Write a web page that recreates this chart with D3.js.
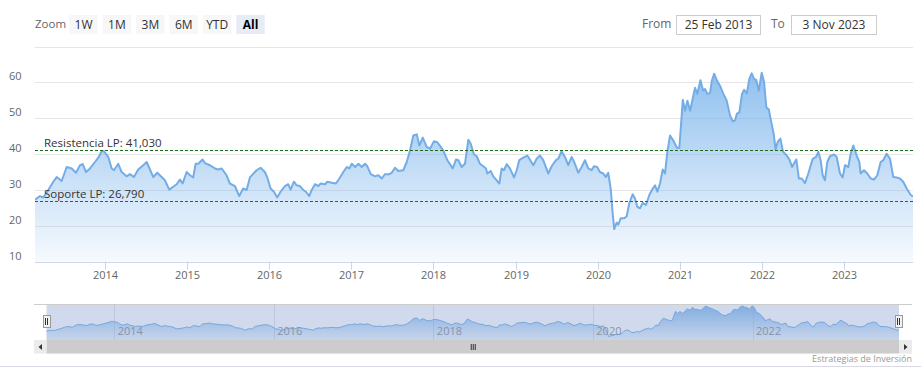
<!DOCTYPE html>
<html><head><meta charset="utf-8">
<script src="https://cdn.jsdelivr.net/npm/d3@7"></script>
<style>
html,body{margin:0;padding:0;background:#fff;}
svg{display:block;font-family:"Open Sans","Noto Sans",sans-serif;}
</style></head>
<body>
<svg id="chart" width="921" height="381"></svg>
<script>
// ---------- DATA ----------
const dates = [2013.151,2013.212,2013.252,2013.313,2013.374,2013.415,2013.476,2013.537,2013.598,2013.650,2013.699,2013.732,2013.772,2013.821,2013.881,2013.922,2013.963,2013.991,
2014.043,2014.085,2014.113,2014.165,2014.206,2014.267,2014.307,2014.356,2014.408,2014.469,2014.511,2014.551,2014.591,2014.640,2014.693,2014.733,2014.786,2014.834,2014.876,2014.916,2014.949,2014.997,
2015.038,2015.078,2015.107,2015.139,2015.192,2015.220,2015.281,2015.342,2015.382,2015.423,2015.484,2015.524,2015.585,2015.638,2015.686,2015.728,2015.768,2015.849,2015.898,2015.950,2015.978,
2016.020,2016.060,2016.100,2016.141,2016.194,2016.234,2016.263,2016.303,2016.336,2016.376,2016.416,2016.449,2016.489,2016.519,2016.559,2016.599,2016.628,2016.681,2016.709,2016.762,2016.814,2016.855,2016.903,2016.945,2016.976,
2017.006,2017.046,2017.086,2017.127,2017.167,2017.195,2017.237,2017.289,2017.329,2017.371,2017.411,2017.463,2017.492,2017.532,2017.573,2017.633,2017.675,2017.715,2017.755,2017.797,2017.828,2017.870,2017.918,2017.958,
2018.007,2018.047,2018.089,2018.120,2018.169,2018.202,2018.235,2018.275,2018.303,2018.344,2018.384,2018.425,2018.454,2018.494,2018.527,2018.567,2018.607,2018.640,2018.656,2018.697,2018.729,2018.770,2018.802,2018.831,2018.859,2018.892,2018.932,2018.981,
2019.014,2019.045,2019.094,2019.143,2019.175,2019.216,2019.257,2019.297,2019.337,2019.398,2019.440,2019.492,2019.520,2019.561,2019.601,2019.642,2019.683,2019.723,2019.763,2019.805,2019.845,2019.885,2019.926,2019.954,2019.994,
2020.027,2020.067,2020.100,2020.128,2020.158,2020.182,2020.201,2020.231,2020.250,2020.279,2020.319,2020.352,2020.384,2020.425,2020.453,2020.481,2020.514,2020.547,2020.587,2020.627,2020.669,2020.697,2020.725,2020.757,2020.790,2020.818,2020.846,2020.879,2020.919,2020.961,2020.992,
2021.034,2021.062,2021.090,2021.123,2021.183,2021.211,2021.248,2021.281,2021.305,2021.333,2021.366,2021.387,2021.415,2021.448,2021.488,2021.528,2021.567,2021.609,2021.642,2021.670,2021.691,2021.723,2021.755,2021.780,2021.813,2021.844,2021.873,2021.901,2021.929,2021.959,2021.995,
2022.023,2022.051,2022.082,2022.111,2022.141,2022.163,2022.191,2022.222,2022.254,2022.299,2022.334,2022.364,2022.416,2022.447,2022.482,2022.522,2022.562,2022.616,2022.656,2022.684,2022.713,2022.737,2022.765,2022.793,2022.826,2022.875,2022.908,2022.948,2022.981,
2023.009,2023.049,2023.078,2023.110,2023.151,2023.183,2023.200,2023.240,2023.280,2023.322,2023.362,2023.402,2023.443,2023.475,2023.516,2023.557,2023.597,2023.638,2023.678,2023.718,2023.760,2023.809,2023.837];

const prices = [27.3,28.3,27.9,30.0,32.3,33.6,32.5,36.4,36.0,34.8,36.9,37.2,35.0,36.0,37.8,39.0,40.8,40.8,
39.2,36.0,35.5,37.3,35.0,33.8,34.4,33.6,35.7,36.9,37.8,35.7,33.6,34.8,33.6,32.7,30.1,30.9,31.6,32.9,31.8,35.0,
34.1,33.5,37.3,37.3,38.5,37.5,36.9,36.0,35.7,36.0,34.1,31.8,31.1,28.3,30.4,30.0,33.5,35.5,36.2,35.0,33.6,
30.4,29.5,27.9,29.5,31.1,31.6,30.1,32.3,31.3,31.1,30.0,29.5,28.3,30.0,31.6,31.1,31.8,31.6,32.3,32.0,31.8,33.2,35.0,36.4,36.0,
37.3,36.4,37.3,36.4,37.3,36.6,34.4,33.8,34.1,33.2,34.4,34.4,34.8,36.2,35.3,35.5,37.8,41.0,45.2,45.5,42.4,44.6,42.0,41.5,
43.6,43.3,42.0,41.0,38.3,37.2,36.0,38.5,38.3,36.4,37.3,44.0,42.9,39.9,39.4,37.3,36.6,36.0,34.6,35.3,33.8,32.7,31.8,36.0,35.5,37.2,36.0,33.5,
35.5,38.3,39.0,39.6,38.5,36.9,38.7,39.6,38.3,34.6,36.6,38.3,38.7,40.8,39.2,36.9,39.2,37.3,34.8,36.4,38.3,36.0,35.5,36.6,36.4,
35.0,34.6,33.6,34.8,30.4,23.5,19.1,20.9,20.3,22.1,22.1,22.6,26.3,28.8,27.6,25.3,24.9,26.4,25.8,28.6,30.4,31.3,29.5,31.8,35.7,34.6,40.6,45.2,43.8,41.8,41.8,
55.1,52.1,54.9,52.1,58.5,56.8,60.6,57.7,58.1,56.8,57.0,60.4,62.4,60.6,59.0,56.8,55.0,50.8,49.1,49.4,51.2,51.7,56.8,57.9,56.9,61.0,62.5,61.0,60.6,57.7,62.7,
60.2,53.0,52.4,48.9,45.6,41.3,43.5,44.3,40.7,39.6,38.4,36.4,38.5,33.2,33.2,31.9,34.6,38.7,39.2,40.6,38.3,34.1,32.7,37.8,39.4,39.9,39.2,34.6,33.5,
36.9,36.4,40.1,42.4,39.6,37.8,34.6,35.5,34.6,33.2,32.9,34.1,37.8,38.3,40.1,38.7,33.6,33.5,33.2,32.3,30.4,28.6,28.2];

const yTicks = [10, 20, 30, 40, 50, 60, 70];
const yTickLabels = ["10", "20", "30", "40", "50", "60"];
const xTickYears = [2014, 2015, 2016, 2017, 2018, 2019, 2020, 2021, 2022, 2023];
const navTickYears = [2014, 2016, 2018, 2020, 2022];
const resistance = 41.03, resistanceLabel = "Resistencia LP: 41,030";
const support = 26.79, supportLabel = "Soporte LP: 26,790";
const rangeButtons = ["1W", "1M", "3M", "6M", "YTD", "All"];
const selectedButton = "All";
const fromText = "25 Feb 2013", toText = "3 Nov 2023";
const creditText = "Estrategias de Inversión";

// ---------- HELPERS ----------
function decToDate(t) {
  const y = Math.floor(t);
  const s = Date.UTC(y, 0, 1), e = Date.UTC(y + 1, 0, 1);
  return new Date(s + (t - y) * (e - s));
}
const series = dates.map((d, i) => ({ date: decToDate(d), v: prices[i] }));

const svg = d3.select("#chart");
const defs = svg.append("defs");

// layout
const plot = { left: 35, right: 913, top: 46.5, bottom: 261.7 };
const nav = { left: 46.5, right: 899, top: 304, bottom: 340 };

const x = d3.scaleUtc().domain(d3.extent(series, d => d.date)).range([plot.left, plot.right]);
const y = d3.scaleLinear().domain([10, 70]).range([plot.bottom, plot.top]);

// ---------- TOOLBAR ----------
const tb = svg.append("g").attr("font-size", 12);
tb.append("text").attr("x", 35).attr("y", 28).attr("fill", "#666").attr("font-size", 11.5).text("Zoom");
const btnW = 28.5, btnStep = 33.4, btnX0 = 69.3;
rangeButtons.forEach((b, i) => {
  const bx = btnX0 + i * btnStep;
  const sel = b === selectedButton;
  tb.append("rect").attr("x", bx).attr("y", 15).attr("width", btnW).attr("height", 19)
    .attr("fill", sel ? "#e6ebf5" : "#f7f7f7");
  tb.append("text").attr("x", bx + btnW / 2).attr("y", 28.5).attr("text-anchor", "middle")
    .attr("fill", sel ? "#000" : "#333").attr("font-weight", sel ? "bold" : "normal").text(b);
});
tb.append("text").attr("x", 642).attr("y", 28).attr("fill", "#666").text("From");
tb.append("rect").attr("x", 676.5).attr("y", 15.5).attr("width", 84).attr("height", 19)
  .attr("fill", "#fff").attr("stroke", "#ccc");
tb.append("text").attr("x", 718.5).attr("y", 28.5).attr("text-anchor", "middle").attr("fill", "#333").text(fromText);
tb.append("text").attr("x", 771).attr("y", 28).attr("fill", "#666").text("To");
tb.append("rect").attr("x", 791.5).attr("y", 15.5).attr("width", 85).attr("height", 19)
  .attr("fill", "#fff").attr("stroke", "#ccc");
tb.append("text").attr("x", 834).attr("y", 28.5).attr("text-anchor", "middle").attr("fill", "#333").text(toText);

// ---------- MAIN PLOT ----------
const grid = svg.append("g");
yTicks.forEach(t => {
  grid.append("line").attr("x1", plot.left).attr("x2", plot.right)
    .attr("y1", Math.round(y(t)) + 0.5).attr("y2", Math.round(y(t)) + 0.5)
    .attr("stroke", "#e6e6e6").attr("stroke-width", 1);
});
yTickLabels.forEach(l => {
  svg.append("text").attr("x", 9).attr("y", y(+l) - 2).attr("font-size", 11)
    .attr("fill", "#666").text(l);
});

const grad = defs.append("linearGradient").attr("id", "areaGrad")
  .attr("gradientUnits", "userSpaceOnUse").attr("x1", 0).attr("x2", 0)
  .attr("y1", plot.top).attr("y2", plot.bottom);
grad.append("stop").attr("offset", 0).attr("stop-color", "#7cb5ec").attr("stop-opacity", 0.95);
grad.append("stop").attr("offset", 1).attr("stop-color", "#7cb5ec").attr("stop-opacity", 0.07);

defs.append("clipPath").attr("id", "plotClip").append("rect")
  .attr("x", plot.left).attr("y", plot.top - 5).attr("width", plot.right - plot.left).attr("height", plot.bottom - plot.top + 5);

const area = d3.area().x(d => x(d.date)).y0(plot.bottom).y1(d => y(d.v));
const line = d3.line().x(d => x(d.date)).y(d => y(d.v));
const pg = svg.append("g").attr("clip-path", "url(#plotClip)");
pg.append("path").datum(series).attr("d", area).attr("fill", "url(#areaGrad)");
pg.append("path").datum(series).attr("d", line).attr("fill", "none")
  .attr("stroke", "#74ade6").attr("stroke-width", 2).attr("stroke-linejoin", "round");

// x axis
svg.append("line").attr("x1", plot.left).attr("x2", plot.right)
  .attr("y1", Math.round(plot.bottom) + 0.5).attr("y2", Math.round(plot.bottom) + 0.5)
  .attr("stroke", "#ccd6eb");
xTickYears.forEach(yr => {
  const tx = Math.round(x(decToDate(yr))) + 0.5;
  svg.append("line").attr("x1", tx).attr("x2", tx).attr("y1", plot.bottom).attr("y2", plot.bottom + 8)
    .attr("stroke", "#ccd6eb");
  svg.append("text").attr("x", tx).attr("y", 279).attr("text-anchor", "middle")
    .attr("font-size", 11).attr("fill", "#666").text(yr);
});

// plot lines
function plotLine(val, color, label) {
  const py = Math.round(y(val)) + 0.5;
  svg.append("line").attr("x1", plot.left).attr("x2", plot.right).attr("y1", py).attr("y2", py)
    .attr("stroke", color).attr("stroke-width", 1).attr("stroke-dasharray", "3,2");
  svg.append("text").attr("x", 44).attr("y", py - 4).attr("font-size", 11.5).attr("fill", "#333").text(label);
}
plotLine(resistance, "#1a6b1a", resistanceLabel);
plotLine(support, "#b3202e", supportLabel);

// ---------- NAVIGATOR ----------
const xn = d3.scaleUtc().domain(x.domain()).range([nav.left, nav.right]);
const yn = d3.scaleLinear().domain([14.4, 65.5]).range([nav.bottom, nav.top]);

navTickYears.forEach(yr => {
  const tx = Math.round(xn(decToDate(yr))) + 0.5;
  svg.append("line").attr("x1", tx).attr("x2", tx).attr("y1", nav.top).attr("y2", nav.bottom)
    .attr("stroke", "#e6e6e6");
});
const ngrad = defs.append("linearGradient").attr("id", "navGrad")
  .attr("gradientUnits", "userSpaceOnUse").attr("x1", 0).attr("x2", 0)
  .attr("y1", nav.top).attr("y2", nav.bottom);
ngrad.append("stop").attr("offset", 0).attr("stop-color", "#7cb5ec").attr("stop-opacity", 0.9);
ngrad.append("stop").attr("offset", 1).attr("stop-color", "#7cb5ec").attr("stop-opacity", 0.1);

const narea = d3.area().x(d => xn(d.date)).y0(nav.bottom).y1(d => yn(d.v));
const nline = d3.line().x(d => xn(d.date)).y(d => yn(d.v));
svg.append("path").datum(series).attr("d", narea).attr("fill", "url(#navGrad)");
svg.append("path").datum(series).attr("d", nline).attr("fill", "none").attr("stroke", "#7cb5ec").attr("stroke-width", 1);

navTickYears.forEach(yr => {
  const tx = xn(decToDate(yr));
  svg.append("text").attr("x", tx + 3.5).attr("y", 335).attr("font-size", 11).attr("fill", "#999").text(yr);
});

// mask (selected range = all)
svg.append("rect").attr("x", nav.left).attr("y", nav.top).attr("width", nav.right - nav.left)
  .attr("height", nav.bottom - nav.top).attr("fill", "rgba(102,133,194,0.3)");
// outline
svg.append("line").attr("x1", 34).attr("x2", 912).attr("y1", nav.top + 0.5).attr("y2", nav.top + 0.5)
  .attr("stroke", "#cccccc");

// handles
[nav.left, nav.right].forEach(hx => {
  const g = svg.append("g");
  g.append("rect").attr("x", Math.round(hx) - 3.5).attr("y", 315.5).attr("width", 7).attr("height", 12)
    .attr("fill", "#f2f2f2").attr("stroke", "#999");
  g.append("line").attr("x1", Math.round(hx) - 1.5).attr("x2", Math.round(hx) - 1.5).attr("y1", 318).attr("y2", 325).attr("stroke", "#333");
  g.append("line").attr("x1", Math.round(hx) + 0.5).attr("x2", Math.round(hx) + 0.5).attr("y1", 318).attr("y2", 325).attr("stroke", "#333");
});

// scrollbar
const sbTop = 340, sbH = 13.5;
svg.append("rect").attr("x", 34).attr("y", sbTop).attr("width", 878).attr("height", sbH).attr("fill", "#f2f2f2");
svg.append("rect").attr("x", nav.left).attr("y", sbTop).attr("width", nav.right - nav.left).attr("height", sbH).attr("fill", "#cccccc");
svg.append("rect").attr("x", 34).attr("y", sbTop).attr("width", 12.5).attr("height", sbH).attr("fill", "#ebebeb");
svg.append("rect").attr("x", nav.right).attr("y", sbTop).attr("width", 13).attr("height", sbH).attr("fill", "#ebebeb");
svg.append("path").attr("d", `M42,${sbTop + 4} L38.5,${sbTop + 7} L42,${sbTop + 10} Z`).attr("fill", "#333");
svg.append("path").attr("d", `M904,${sbTop + 4} L907.5,${sbTop + 7} L904,${sbTop + 10} Z`).attr("fill", "#333");
const midX = (nav.left + nav.right) / 2;
[-2, 0, 2].forEach(o => {
  svg.append("line").attr("x1", midX + o + 0.5).attr("x2", midX + o + 0.5).attr("y1", sbTop + 4).attr("y2", sbTop + 10)
    .attr("stroke", "#333");
});

// credit
svg.append("text").attr("x", 912).attr("y", 362).attr("text-anchor", "end").attr("font-size", 9)
  .attr("fill", "#999").text(creditText);
svg.append("line").attr("x1", 0).attr("x2", 921).attr("y1", 366.5).attr("y2", 366.5).attr("stroke", "#d9d9e6");
</script>
</body></html>
